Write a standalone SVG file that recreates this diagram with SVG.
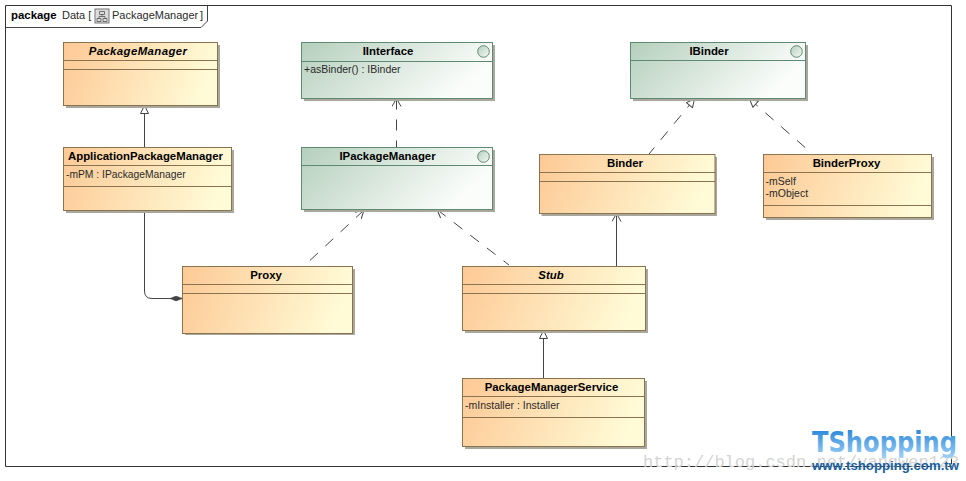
<svg xmlns="http://www.w3.org/2000/svg" width="966" height="481" viewBox="0 0 966 481">
<style>
text{font-family:"Liberation Sans",Arial,sans-serif;font-size:10.5px;fill:#2a2a2a}
.t{font-weight:bold;font-size:11.4px;text-anchor:middle;fill:#000}
.i{font-style:italic}
.c{stroke:#8a7350;fill:url(#o)}
.g{stroke:#5f8a72;fill:url(#g)}
.s{fill:#aaa79c}
.cs{stroke:#8a7350}
.gs{stroke:#5f8a72}
.ball{fill:url(#b);stroke:#5f8a72}
.ln{fill:none;stroke:#444;stroke-width:1}
.d{stroke-dasharray:11 10}
.f{font-size:11.4px}
</style>
<defs>
<linearGradient id="o" x1="0" y1="0" x2="1" y2="0.15"><stop offset="0" stop-color="#fdc995"/><stop offset="1" stop-color="#fffbd6"/></linearGradient>
<linearGradient id="g" x1="0" y1="0" x2="1" y2="0.35"><stop offset="0" stop-color="#b5cfbc"/><stop offset="1" stop-color="#fbfdfb"/></linearGradient>
<linearGradient id="b" x1="0" y1="0" x2="1" y2="1"><stop offset="0" stop-color="#b5cfbc"/><stop offset="1" stop-color="#f4f8f4"/></linearGradient>
<linearGradient id="ts" x1="0" y1="0" x2="0" y2="1"><stop offset="0" stop-color="#1c7fd6"/><stop offset="1" stop-color="#a5d4f8"/></linearGradient>
<marker id="tri" markerWidth="12" markerHeight="12" refX="9" refY="4.500" orient="auto-start-reverse" markerUnits="userSpaceOnUse"><path d="M1 0.500L9 4.500L1 8.500Z" fill="#fff" stroke="#444"/></marker>
<marker id="open" markerWidth="12" markerHeight="12" refX="9" refY="5" orient="auto-start-reverse" markerUnits="userSpaceOnUse"><path d="M1 0.500L9 5L1 9.500" fill="none" stroke="#444"/></marker>
<marker id="dia" markerWidth="16" markerHeight="8" refX="13" refY="3" orient="auto" markerUnits="userSpaceOnUse"><path d="M0.500 3L6.500 0.500L13 3L6.500 5.500Z" fill="#444" stroke="#444" stroke-width="0.500"/></marker>
</defs>
<rect width="966" height="481" fill="#fff"/>
<g id="frame">
<path d="M5.500 5.500H951.500V466.500H5.500Z" fill="none" stroke="#333"/>
<path d="M5.500 27.500H201L207.500 21V5.500" fill="none" stroke="#444"/>
<text x="11" y="19" font-weight="bold" class="f" style="fill:#000">package</text>
<text x="62" y="19" style="font-size:11px">Data [</text>
<rect x="95" y="9" width="14" height="14" fill="#ddd" stroke="#777"/>
<path d="M99.500 11.500h5v3h-5zM97 18.500h4v3h-4zM103 18.500h4v3h-4zM102 14.500v2M99 18.500v-2h6v2" fill="none" stroke="#555" stroke-width="0.800"/>
<text x="112" y="19" style="font-size:11px">PackageManager</text>
<text x="200" y="19" style="font-size:11px">]</text>
</g>
<g id="connectors">
<path class="ln" d="M144.500 105.500V147" marker-start="url(#tri)"/>
<path class="ln" d="M144.500 210V291Q144.500 298.500 152 298.500H182.500" marker-end="url(#dia)"/>
<path class="ln d" d="M396.500 98.500V147.500" marker-start="url(#open)"/>
<path class="ln d" d="M364 210L304 266" marker-start="url(#open)"/>
<path class="ln d" d="M437 209.500L509 265" marker-start="url(#open)"/>
<path class="ln d" d="M694.500 99L649 154" marker-start="url(#tri)"/>
<path class="ln d" d="M749.500 99L808 150" marker-start="url(#tri)"/>
<path class="ln" d="M616.500 213.500V266" marker-start="url(#open)"/>
<path class="ln" d="M543.500 330.500V378" marker-start="url(#tri)"/>
</g>
<g id="PackageManagerClass">
<rect class="s" x="66" y="45" width="154" height="63"/>
<rect class="c" x="63.500" y="42.500" width="154" height="63"/>
<path class="cs" d="M63.500 60.500H217.500M63.500 69.500H217.500"/>
<text class="t i" x="138" y="55" letter-spacing=".4">PackageManager</text>
</g>
<g id="ApplicationPackageManager">
<rect class="s" x="66" y="150" width="168" height="63"/>
<rect class="c" x="63.500" y="147.500" width="168" height="63"/>
<path class="cs" d="M63.500 165.500H231.500M63.500 186.500H231.500"/>
<text class="t" x="145.500" y="160">ApplicationPackageManager</text>
<text x="66" y="178" style="font-size:10.300px">-mPM : IPackageManager</text>
</g>
<g id="IInterface">
<rect class="s" x="304" y="45" width="191" height="56"/>
<rect class="g" x="301.500" y="42.500" width="191" height="56"/>
<path class="gs" d="M301.500 61.500H492.500"/>
<circle class="ball" cx="483.500" cy="51.500" r="5.800"/>
<text class="t" x="388" y="55">IInterface</text>
<text x="304" y="73">+asBinder() : IBinder</text>
</g>
<g id="IPackageManager">
<rect class="s" x="304" y="150" width="191" height="62"/>
<rect class="g" x="301.500" y="147.500" width="191" height="62"/>
<path class="gs" d="M301.500 165.500H492.500"/>
<circle class="ball" cx="483.500" cy="156.500" r="5.800"/>
<text class="t" x="387.500" y="160">IPackageManager</text>
</g>
<g id="IBinder">
<rect class="s" x="633" y="45" width="175" height="56"/>
<rect class="g" x="630.500" y="42.500" width="175" height="56"/>
<path class="gs" d="M630.500 60.500H805.500"/>
<circle class="ball" cx="796.500" cy="51.500" r="5.800"/>
<text class="t" x="709" y="55">IBinder</text>
</g>
<g id="Binder">
<rect class="s" x="541.500" y="157" width="175.500" height="59"/>
<rect class="c" x="539.500" y="154.500" width="175.500" height="59"/>
<path class="cs" d="M539.500 172.500H715M539.500 181.500H715"/>
<text class="t" x="625" y="167">Binder</text>
</g>
<g id="BinderProxy">
<rect class="s" x="766" y="157" width="168" height="63"/>
<rect class="c" x="763.500" y="154.500" width="168" height="63"/>
<path class="cs" d="M763.500 172.500H931.500M763.500 205.500H931.500"/>
<text class="t" x="846.500" y="167">BinderProxy</text>
<text x="765.500" y="185">-mSelf</text>
<text x="765.500" y="197">-mObject</text>
</g>
<g id="Proxy">
<rect class="s" x="185" y="269" width="170" height="66"/>
<rect class="c" x="182.500" y="266.500" width="170" height="67"/>
<path class="cs" d="M182.500 284.500H352.500M182.500 293.500H352.500"/>
<text class="t" x="266" y="279">Proxy</text>
</g>
<g id="Stub">
<rect class="s" x="465" y="269" width="183" height="64"/>
<rect class="c" x="462.500" y="266.500" width="183" height="64"/>
<path class="cs" d="M462.500 284.500H645.500M462.500 293.500H645.500"/>
<text class="t i" x="551" y="279">Stub</text>
</g>
<g id="PackageManagerService">
<rect class="s" x="465" y="381" width="182" height="68"/>
<rect class="c" x="462.500" y="378.500" width="182" height="68"/>
<path class="cs" d="M462.500 396.500H644.500M462.500 417.500H644.500"/>
<text class="t" x="551.500" y="391">PackageManagerService</text>
<text x="465" y="409">-mInstaller : Installer</text>
</g>
<g id="watermark">
<text x="643" y="467" style="font-family:'Liberation Mono',monospace;font-size:17px;fill:#d4d4d4">http://blog.csdn.net/yangwen123</text>
<text x="812" y="452" style="font-family:'DejaVu Sans',sans-serif;font-weight:bold;font-size:28px;fill:url(#ts)" textLength="145" lengthAdjust="spacingAndGlyphs">TShopping</text>
<text x="812" y="470" style="font-weight:bold;font-size:12px;fill:#1b5f9e" textLength="147" lengthAdjust="spacingAndGlyphs">www.tshopping.com.tw</text>
</g>
</svg>
